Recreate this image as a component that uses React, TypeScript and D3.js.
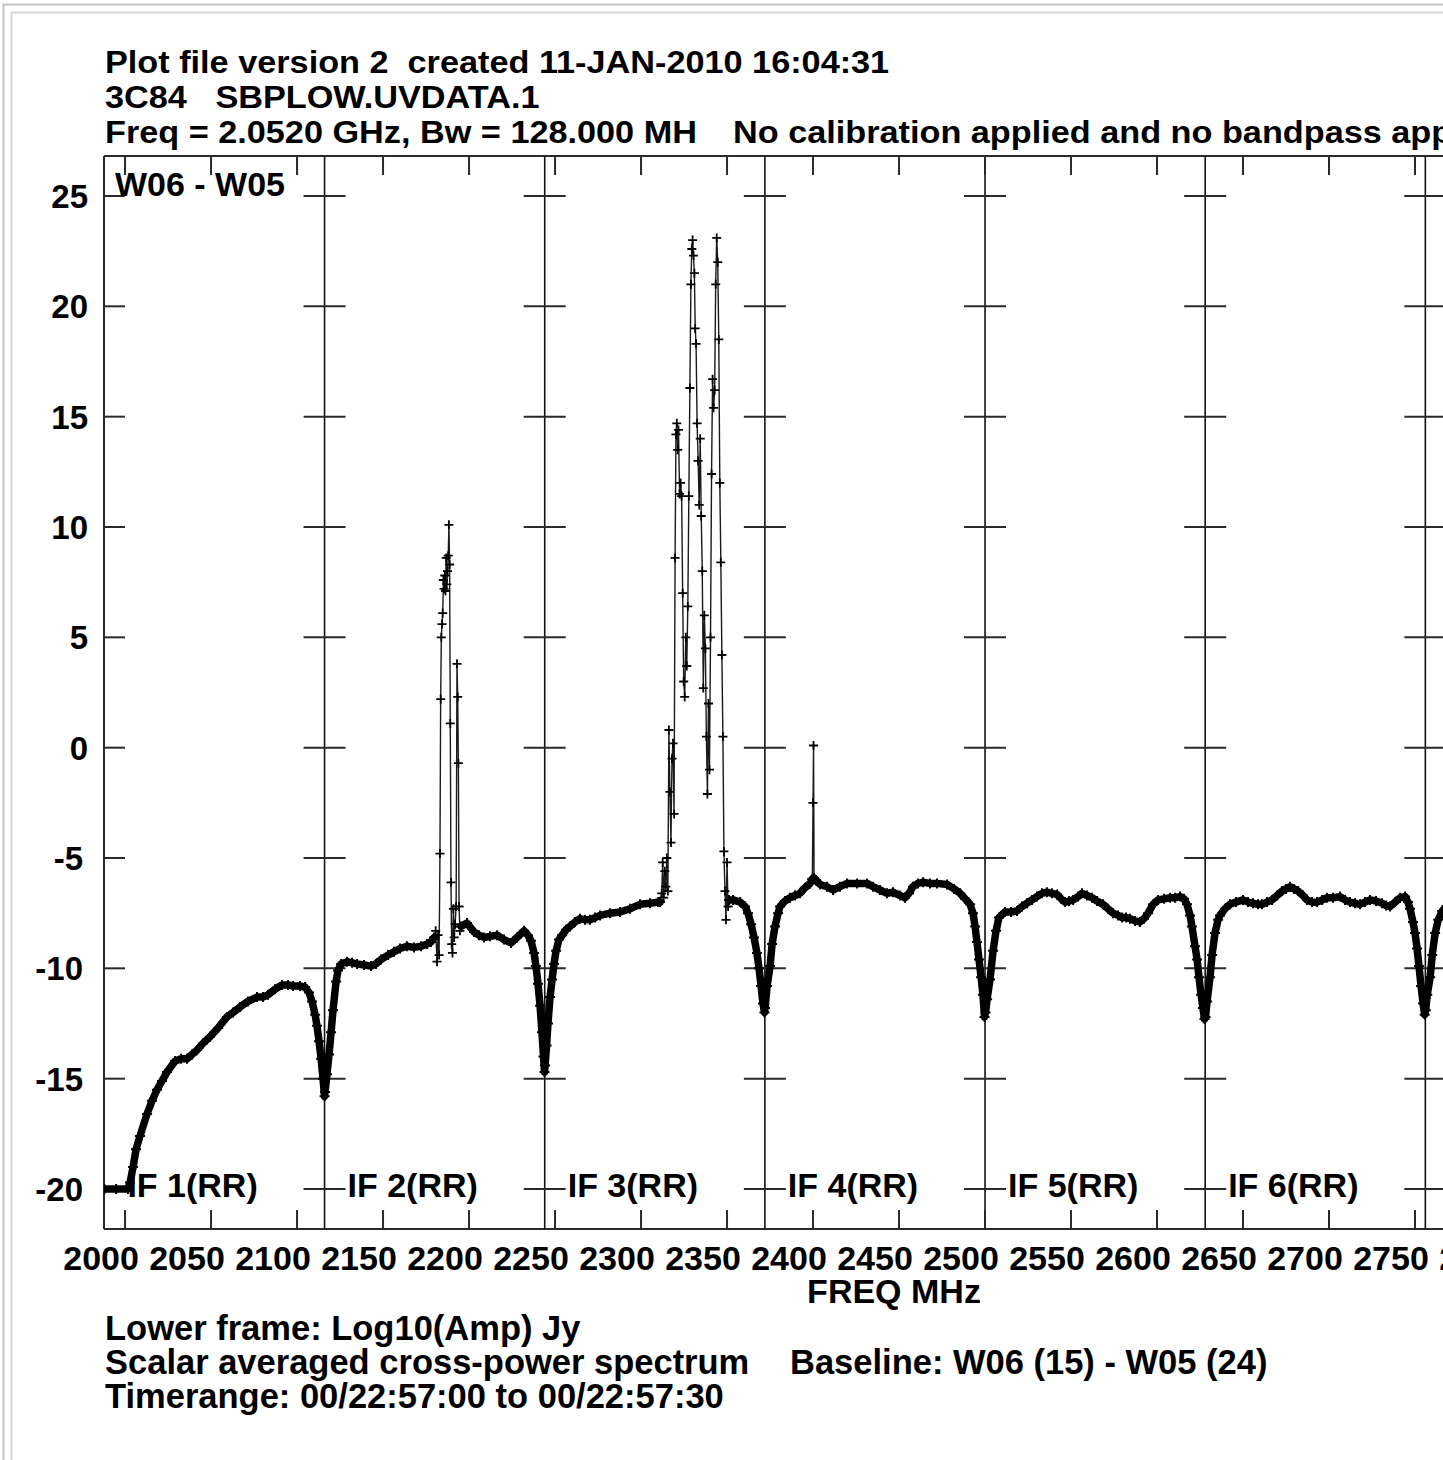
import React from 'react';
import * as d3 from 'd3';

type Pt = [number, number];

const W = 1443;
const H = 1460;

const titleLines = [
  'Plot file version 2  created 11-JAN-2010 16:04:31',
  '3C84   SBPLOW.UVDATA.1',
  'Freq = 2.0520 GHz, Bw = 128.000 MH',
];
const titleExtra = 'No calibration applied and no bandpass applied';
const footLines = [
  'Lower frame: Log10(Amp) Jy',
  'Scalar averaged cross-power spectrum',
  'Timerange: 00/22:57:00 to 00/22:57:30',
];
const baselineNote = 'Baseline: W06 (15) - W05 (24)';
const panelLabel = 'W06 - W05';
const xAxisTitle = 'FREQ MHz';

const xTicks = [2000, 2050, 2100, 2150, 2200, 2250, 2300, 2350, 2400, 2450, 2500, 2550, 2600, 2650, 2700, 2750, 2800];
const yTicks = [25, 20, 15, 10, 5, 0, -5, -10, -15, -20];
const ifEdges = [1988, 2116, 2244, 2372, 2500, 2628, 2756];
const ifLabels = ['IF 1(RR)', 'IF 2(RR)', 'IF 3(RR)', 'IF 4(RR)', 'IF 5(RR)', 'IF 6(RR)'];

// [freq MHz, amplitude]
const if1Trace: Pt[] = [
  [1988.0, -20.0], [1994.8, -20.0], [2001.7, -20.0], [2002.9, -19.7], [2004.7, -19.0], [2006.4, -18.2],
  [2008.7, -17.6], [2012.8, -16.6], [2015.7, -16.0], [2018.6, -15.5], [2021.5, -15.1], [2024.4, -14.7],
  [2029.1, -14.2], [2032.6, -14.1], [2036.0, -14.1], [2039.0, -13.9], [2041.9, -13.7], [2045.3, -13.4],
  [2049.4, -13.1], [2054.1, -12.7], [2059.3, -12.2], [2062.8, -12.0], [2066.9, -11.75], [2071.5, -11.5],
  [2076.7, -11.3], [2080.2, -11.3], [2083.1, -11.2], [2087.2, -10.95], [2091.3, -10.75], [2094.8, -10.75],
  [2097.7, -10.8], [2101.7, -10.8], [2104.7, -10.85], [2107.0, -11.1], [2108.7, -11.5], [2110.5, -12.1],
  [2111.6, -12.6], [2112.8, -13.3], [2114.0, -14.1], [2115.1, -15.0], [2116.0, -15.8],
];
const if2Start: Pt[] = [
  [2116.3, -15.6], [2117.4, -14.8], [2118.6, -13.9], [2119.8, -12.9], [2120.9, -11.9], [2122.7, -10.6],
  [2123.8, -10.1], [2125.6, -9.8], [2129.1, -9.7], [2132.0, -9.75], [2134.9, -9.8], [2139.0, -9.85],
  [2143.0, -9.9], [2145.9, -9.8], [2148.8, -9.6], [2152.9, -9.4], [2156.4, -9.25], [2159.9, -9.1],
  [2163.9, -9.0], [2168.0, -9.05], [2172.1, -9.0], [2175.6, -8.9], [2177.9, -8.8], [2179.7, -8.6],
];
const if2Spike: Pt[] = [
  [2179.7, -8.6], [2180.6, -8.3], [2181.4, -9.7], [2182.0, -8.5], [2182.6, -9.4], [2183.1, -4.8],
  [2183.5, 2.2], [2183.9, 5.0], [2184.3, 5.6], [2184.7, 6.1], [2185.1, 7.6], [2185.5, 7.2],
  [2185.9, 7.8], [2186.3, 7.1], [2186.7, 8.6], [2187.1, 7.4], [2187.5, 8.0], [2187.9, 8.7],
  [2188.3, 10.1], [2188.7, 8.3], [2189.1, 1.1], [2189.5, -6.1], [2189.9, -8.9], [2190.4, -9.3],
  [2190.9, -7.3], [2191.4, -8.6], [2191.9, -8.0], [2192.5, -7.2], [2193.0, 3.8], [2193.4, 2.3],
  [2193.8, -0.7], [2194.2, -7.2], [2194.7, -8.3], [2195.3, -8.1],
];
const if2End: Pt[] = [
  [2195.3, -8.1], [2198.8, -7.95], [2202.9, -8.35], [2205.8, -8.5], [2208.7, -8.6], [2212.2, -8.55],
  [2216.3, -8.5], [2220.3, -8.7], [2224.4, -8.85], [2227.9, -8.6], [2232.0, -8.3], [2234.3, -8.5],
  [2236.0, -8.75], [2237.8, -9.3], [2238.9, -9.9], [2240.1, -10.7], [2241.3, -11.7], [2242.4, -12.9],
  [2243.3, -14.0], [2243.9, -14.7],
];
const if3Start: Pt[] = [
  [2244.2, -14.4], [2245.1, -13.5], [2245.9, -12.5], [2247.1, -11.3], [2248.3, -10.5], [2249.4, -9.8],
  [2250.6, -9.2], [2252.3, -8.7], [2254.1, -8.5], [2256.4, -8.25], [2258.7, -8.1], [2261.6, -7.9],
  [2264.5, -7.75], [2267.4, -7.8], [2270.3, -7.8], [2273.3, -7.7], [2276.2, -7.6], [2282.0, -7.5],
  [2287.8, -7.45], [2293.6, -7.3], [2299.4, -7.1], [2305.2, -7.05], [2309.9, -7.0], [2311.0, -7.0],
];
const if3Spike: Pt[] = [
  [2311.0, -7.0], [2312.0, -6.6], [2312.6, -5.2], [2313.2, -6.8], [2313.8, -5.6], [2314.4, -6.3],
  [2315.0, -5.0], [2315.6, -6.5], [2316.2, 0.8], [2316.8, -2.0], [2317.4, -4.3], [2318.0, -0.5],
  [2318.6, 0.2], [2319.2, -3.0], [2319.8, 8.6], [2320.3, 14.2], [2320.8, 14.7], [2321.3, 13.5],
  [2321.8, 14.4], [2322.4, 11.5], [2323.0, 12.0], [2323.6, 11.4], [2324.2, 7.0], [2324.8, 3.0],
  [2325.4, 2.3], [2326.0, 5.0], [2326.6, 3.7], [2327.2, 6.4], [2327.8, 11.4], [2328.4, 16.3],
  [2329.0, 21.0], [2329.5, 22.6], [2330.0, 23.0], [2330.5, 22.3], [2331.0, 21.5], [2331.5, 19.0],
  [2332.0, 18.3], [2332.6, 14.7], [2333.2, 13.0], [2333.8, 11.0], [2334.4, 14.0], [2335.0, 10.5],
  [2335.6, 8.0], [2336.2, 2.7], [2336.8, 6.0], [2337.4, 4.5], [2338.0, 0.5], [2338.6, -2.1],
  [2339.2, 2.0], [2339.8, -1.0], [2340.4, 5.0], [2341.0, 12.4], [2341.6, 16.7], [2342.2, 15.4],
  [2342.8, 16.2], [2343.4, 21.0], [2344.0, 23.1], [2344.6, 22.0], [2345.2, 18.5], [2345.8, 12.0],
  [2346.4, 8.4], [2347.0, 4.2], [2347.6, 0.5], [2348.2, -4.7], [2348.8, -6.5], [2349.4, -7.8],
  [2350.0, -5.2], [2350.6, -7.2], [2351.2, -6.9],
];
const if3End: Pt[] = [
  [2351.2, -6.9], [2353.5, -6.9], [2357.6, -7.0], [2360.5, -7.2], [2362.2, -7.5], [2364.0, -8.0],
  [2365.7, -8.6], [2367.4, -9.3], [2368.6, -10.0], [2369.8, -10.8], [2370.9, -11.6], [2371.8, -12.0],
];
const if4Start: Pt[] = [
  [2372.1, -11.8], [2373.3, -10.8], [2375.0, -9.9], [2376.2, -8.9], [2377.9, -8.1], [2379.7, -7.5],
  [2380.8, -7.2], [2383.7, -6.95], [2386.6, -6.8], [2389.5, -6.7], [2392.4, -6.6], [2395.3, -6.35],
  [2398.3, -6.15], [2399.6, -5.95],
];
const if4Spike: Pt[] = [[2399.6, -5.95], [2400.0, -2.5], [2400.3, 0.1], [2400.6, -5.9]];
const if4End: Pt[] = [
  [2400.6, -5.9], [2401.7, -6.0], [2404.1, -6.2], [2408.1, -6.3], [2411.6, -6.45], [2415.7, -6.3],
  [2419.8, -6.15], [2425.6, -6.15], [2431.4, -6.15], [2434.9, -6.3], [2438.9, -6.45], [2443.0, -6.6],
  [2446.5, -6.55], [2450.6, -6.7], [2453.5, -6.8], [2455.8, -6.6], [2458.1, -6.3], [2461.0, -6.15],
  [2464.0, -6.1], [2468.0, -6.15], [2472.1, -6.15], [2477.9, -6.2], [2482.0, -6.4], [2485.5, -6.6],
  [2488.4, -6.85], [2491.3, -7.1], [2493.0, -7.5], [2494.2, -8.1], [2495.3, -8.8], [2496.5, -9.6],
  [2497.7, -10.4], [2498.8, -11.2], [2499.7, -12.2],
];
const if5Trace: Pt[] = [
  [2500.3, -12.0], [2501.2, -11.4], [2502.9, -10.5], [2504.7, -9.2], [2506.4, -8.3], [2508.1, -7.7],
  [2511.6, -7.45], [2515.1, -7.45], [2518.6, -7.4], [2521.5, -7.2], [2524.4, -7.05], [2527.3, -6.9],
  [2530.2, -6.75], [2533.1, -6.6], [2536.0, -6.55], [2538.9, -6.6], [2541.9, -6.65], [2544.2, -6.85],
  [2546.5, -7.0], [2548.8, -6.95], [2551.2, -6.9], [2554.1, -6.75], [2556.4, -6.6], [2559.3, -6.7],
  [2562.2, -6.8], [2565.1, -6.95], [2568.6, -7.1], [2571.5, -7.3], [2574.4, -7.5], [2577.3, -7.6],
  [2579.7, -7.7], [2582.0, -7.7], [2584.3, -7.75], [2587.2, -7.85], [2590.1, -7.9], [2592.4, -7.75],
  [2594.8, -7.5], [2597.7, -7.1], [2600.6, -6.9], [2604.1, -6.85], [2607.6, -6.8], [2610.5, -6.8],
  [2613.4, -6.75], [2615.7, -6.85], [2617.4, -7.1], [2619.2, -7.6], [2620.3, -8.1], [2622.1, -9.0],
  [2623.3, -9.6], [2624.4, -10.4], [2625.6, -11.2], [2626.7, -11.8], [2627.6, -12.3],
];
const if6Trace: Pt[] = [
  [2628.2, -12.2], [2629.1, -11.5], [2630.8, -10.4], [2632.0, -9.4], [2633.7, -8.4], [2635.5, -7.8],
  [2636.6, -7.6], [2639.5, -7.3], [2642.4, -7.1], [2645.9, -7.0], [2650.0, -6.9], [2652.9, -7.0],
  [2655.8, -7.05], [2658.7, -7.1], [2661.0, -7.1], [2663.9, -7.0], [2666.9, -6.9], [2669.8, -6.7],
  [2672.7, -6.5], [2675.0, -6.4], [2677.3, -6.3], [2679.7, -6.4], [2682.0, -6.5], [2684.9, -6.7],
  [2687.2, -6.9], [2690.1, -7.0], [2693.0, -7.0], [2696.0, -6.9], [2698.9, -6.8], [2702.3, -6.8],
  [2706.4, -6.75], [2709.3, -6.9], [2712.2, -7.0], [2715.1, -7.05], [2718.0, -7.1], [2720.9, -7.0],
  [2723.8, -6.9], [2727.3, -6.95], [2730.8, -7.05], [2733.1, -7.15], [2735.5, -7.2], [2738.4, -7.0],
  [2741.3, -6.8], [2744.2, -6.75], [2745.9, -7.0], [2747.1, -7.3], [2748.8, -7.9], [2750.0, -8.4],
  [2751.2, -9.1], [2752.3, -9.9], [2753.5, -10.8], [2754.7, -11.6], [2755.6, -12.1],
];
const if7Trace: Pt[] = [
  [2756.2, -11.9], [2757.1, -11.2], [2758.8, -10.4], [2760.0, -9.4], [2761.7, -8.4], [2763.5, -7.8],
  [2765.8, -7.4], [2768.1, -7.2],
];

const FONT = '"Liberation Sans", Arial, Helvetica, sans-serif';
const PRE: React.CSSProperties = { whiteSpace: 'pre' };

export default function App() {
  const x = d3.scaleLinear().domain([1988, 2884]).range([104.4, 1645.5]);
  const y = d3.scaleLinear().domain([-20, 25]).range([1189, 196]);
  const left = 104;
  const top = 156;
  const bottom = 1229;
  const right = W + 20;

  const line = d3
    .line<Pt>()
    .x((d) => x(d[0]))
    .y((d) => y(d[1]));

  const plus = (pts: Pt[], s: number) =>
    pts
      .map((d) => {
        const px = x(d[0]);
        const py = y(d[1]);
        return `M${(px - s / 2).toFixed(1)},${py.toFixed(1)}h${s}M${px.toFixed(1)},${(py - s / 2).toFixed(1)}v${s}`;
      })
      .join('');

  const continuumRuns: Pt[][] = [
    [...if1Trace, ...if2Start],
    [...if2End, ...if3Start],
    [...if3End, ...if4Start],
    [...if4End, ...if5Trace, ...if6Trace, ...if7Trace],
  ];
  const spikeRuns: Pt[][] = [if2Spike, if3Spike, if4Spike];
  const separators = ifEdges.slice(1);

  return (
    <div style={{ position: 'absolute', left: 0, top: 0 }}>
      <svg width={W} height={H} viewBox={`0 0 ${W} ${H}`} style={{ display: 'block', background: '#fff' }}>
        <defs>
          <clipPath id="plotClip">
            <rect x={left} y={top} width={right - left} height={bottom - top} />
          </clipPath>
        </defs>
        {/* page borders */}
        <path d={`M3.5,${H}V4.5H${W}`} fill="none" stroke="#c4c4c4" strokeWidth={2} />
        <path d={`M11.5,${H}V12.5H${W}`} fill="none" stroke="#d6d6d6" strokeWidth={2} />

        {/* titles */}
        <g fontFamily={FONT} fontWeight="bold" fontSize={31} fill="#000">
          {titleLines.map((t, i) => (
            <text key={t} transform={`translate(105,${73 + i * 35}) scale(1.105,1)`} style={PRE} xmlSpace="preserve">
              {t}
            </text>
          ))}
          <text transform={`translate(733,143) scale(1.105,1)`} style={PRE}>
            {titleExtra}
          </text>
        </g>

        {/* frame */}
        <g stroke="#2a2a2a" strokeWidth={2} fill="none">
          <line x1={left} y1={top} x2={right} y2={top} />
          <line x1={left} y1={bottom} x2={right} y2={bottom} />
          <line x1={left} y1={top} x2={left} y2={bottom} />
        </g>

        {/* IF separators */}
        <g stroke="#111" strokeWidth={1.6}>
          {separators.map((e) => (
            <line key={e} x1={x(e)} y1={top} x2={x(e)} y2={bottom} />
          ))}
        </g>

        {/* y ticks */}
        <g stroke="#2a2a2a" strokeWidth={2}>
          {yTicks.map((v) => (
            <line key={'l' + v} x1={left} y1={y(v)} x2={left + 21} y2={y(v)} />
          ))}
          {separators.map((e) =>
            yTicks.map((v) => <line key={e + 's' + v} x1={x(e) - 21} y1={y(v)} x2={x(e) + 21} y2={y(v)} />)
          )}
        </g>

        {/* x ticks */}
        <g stroke="#2a2a2a" strokeWidth={2}>
          {xTicks.map((t) => (
            <g key={t}>
              <line x1={x(t)} y1={top} x2={x(t)} y2={top + 19} />
              <line x1={x(t)} y1={bottom} x2={x(t)} y2={bottom - 19} />
            </g>
          ))}
        </g>

        {/* axis labels */}
        <g fontFamily={FONT} fontWeight="bold" fill="#000">
          {yTicks.map((v) => (
            <text key={v} x={v < 0 ? 83 : 88} y={y(v) + 12} fontSize={33} textAnchor="end">
              {String(v)}
            </text>
          ))}
          {xTicks.map((t) => (
            <text key={t} x={x(t) - 24} y={1270} fontSize={34} textAnchor="middle">
              {String(t)}
            </text>
          ))}
          <text x={894} y={1303} fontSize={34} textAnchor="middle">
            {xAxisTitle}
          </text>
        </g>

        {/* data */}
        <g clipPath="url(#plotClip)">
          {continuumRuns.map((run, i) => (
            <path
              key={'c' + i}
              d={line(run) ?? ''}
              fill="none"
              stroke="#000"
              strokeWidth={7.5}
              strokeLinejoin="round"
              strokeLinecap="round"
            />
          ))}
          {continuumRuns.map((run, i) => (
            <path key={'cm' + i} d={plus(run, 10)} fill="none" stroke="#000" strokeWidth={2} />
          ))}
          {spikeRuns.map((run, i) => (
            <path key={'s' + i} d={line(run) ?? ''} fill="none" stroke="#1a1a1a" strokeWidth={1.4} />
          ))}
          {spikeRuns.map((run, i) => (
            <path key={'sm' + i} d={plus(run, 9)} fill="none" stroke="#000" strokeWidth={1.8} />
          ))}
        </g>

        {/* in-plot labels */}
        <g fontFamily={FONT} fontWeight="bold" fill="#000" fontSize={34}>
          <text x={115} y={196}>
            {panelLabel}
          </text>
          {ifLabels.map((lab, i) => (
            <text key={lab} x={x(ifEdges[i]) + 23} y={1197}>
              {lab}
            </text>
          ))}
        </g>

        {/* footer */}
        <g fontFamily={FONT} fontWeight="bold" fill="#000" fontSize={34.5}>
          {footLines.map((t, i) => (
            <text key={t} x={105} y={1340 + i * 34}>
              {t}
            </text>
          ))}
          <text x={790} y={1374}>
            {baselineNote}
          </text>
        </g>
      </svg>
    </div>
  );
}
